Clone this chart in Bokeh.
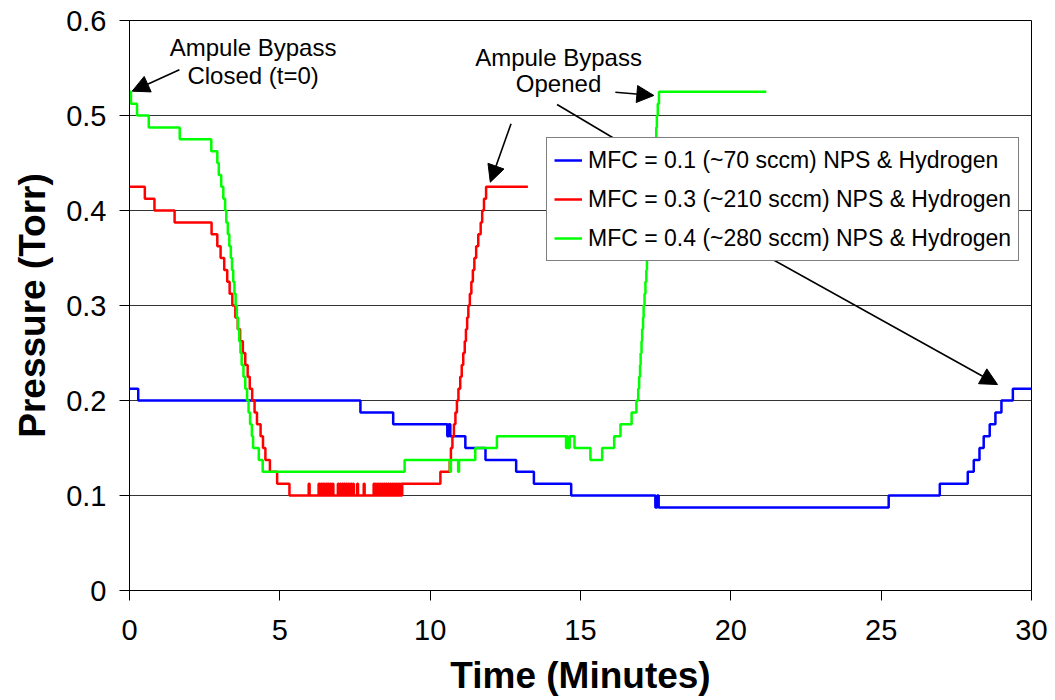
from bokeh.plotting import figure
from bokeh.models import (Range1d, Legend, LegendItem, Arrow, NormalHead,
                          FixedTicker, PrintfTickFormatter)
from bokeh.core.properties import value
from bokeh.embed import file_html
from bokeh.resources import INLINE

FONT = "Liberation Sans"

# ---------------- data ----------------
x_ticks = [0, 5, 10, 15, 20, 25, 30]
y_ticks = [0, 0.1, 0.2, 0.3, 0.4, 0.5, 0.6]

series_labels = ["MFC = 0.1 (~70 sccm) NPS & Hydrogen",
                 "MFC = 0.3 (~210 sccm) NPS & Hydrogen",
                 "MFC = 0.4 (~280 sccm) NPS & Hydrogen"]
series_colors = ["#0000FF", "#FF0000", "#00FF00"]

# MFC = 0.1  (time in minutes, pressure in Torr)
blue_t = [0.00, 0.29, 7.68, 8.77, 10.57, 10.62, 10.67, 11.17, 11.84, 12.86,
          13.45, 14.69, 17.49, 17.55, 17.60, 25.25, 26.95, 27.88, 28.08,
          28.27, 28.41, 28.61, 28.80, 29.00, 29.38, 30.00]
blue_v = [0.2125, 0.2, 0.1875, 0.175, 0.1625, 0.175, 0.1625, 0.15, 0.1375,
          0.125, 0.1125, 0.1, 0.0875, 0.1, 0.0875, 0.1, 0.1125, 0.125,
          0.1375, 0.15, 0.1625, 0.175, 0.1875, 0.2, 0.2125, 0.2125]

# MFC = 0.3
red_t = [0.00, 0.51, 0.83, 1.50, 2.73, 2.92, 3.03, 3.15, 3.25, 3.33, 3.42,
         3.52, 3.60, 3.68, 3.77, 3.85, 3.93, 4.00, 4.08, 4.16, 4.24, 4.36,
         4.44, 4.52, 4.67, 4.91, 5.32,
         5.96, 5.99, 6.29, 6.32, 6.36, 6.39, 6.42, 6.45, 6.48, 6.51, 6.55,
         6.58, 6.61, 6.64, 6.68, 6.71, 6.75, 6.78, 6.93, 6.96, 7.00, 7.03,
         7.07, 7.10, 7.14, 7.17, 7.21, 7.24, 7.28, 7.31, 7.36, 7.39, 7.43,
         7.46, 7.57, 7.60, 7.79, 7.82, 8.12, 8.15, 8.18, 8.21, 8.25, 8.28,
         8.32, 8.35, 8.39, 8.42, 8.46, 8.49, 8.53, 8.56, 8.60, 8.63, 8.67,
         8.70, 8.74, 8.77, 8.81, 8.84, 8.88, 8.91, 8.95, 8.98, 9.02, 9.05,
         9.07, 10.34,
         10.65, 10.69, 10.74, 10.79, 10.84, 10.89, 10.94, 11.00, 11.05,
         11.10, 11.15, 11.19, 11.23, 11.27, 11.32, 11.37, 11.42, 11.47,
         11.53, 11.60, 11.68, 11.73, 11.79, 11.86, 13.25]
red_v = [0.425, 0.4125, 0.4, 0.3875, 0.375, 0.3625, 0.35, 0.3375, 0.325,
         0.3125, 0.3, 0.2875, 0.275, 0.2625, 0.25, 0.2375, 0.225, 0.2125,
         0.2, 0.1875, 0.175, 0.1625, 0.15, 0.1375, 0.125, 0.1125, 0.1,
         0.1125, 0.1, 0.1125, 0.1, 0.1125, 0.1, 0.1125, 0.1, 0.1125, 0.1,
         0.1125, 0.1, 0.1125, 0.1, 0.1125, 0.1, 0.1125, 0.1, 0.1125, 0.1,
         0.1125, 0.1, 0.1125, 0.1, 0.1125, 0.1, 0.1125, 0.1, 0.1125, 0.1,
         0.1125, 0.1, 0.1125, 0.1, 0.1125, 0.1, 0.1125, 0.1, 0.1125, 0.1,
         0.1125, 0.1, 0.1125, 0.1, 0.1125, 0.1, 0.1125, 0.1, 0.1125, 0.1,
         0.1125, 0.1, 0.1125, 0.1, 0.1125, 0.1, 0.1125, 0.1, 0.1125, 0.1,
         0.1125, 0.1, 0.1125, 0.1, 0.1125, 0.1,
         0.1125, 0.125,
         0.1375, 0.15, 0.1625, 0.175, 0.1875, 0.2, 0.2125, 0.225, 0.2375,
         0.25, 0.2625, 0.275, 0.2875, 0.3, 0.3125, 0.325, 0.3375, 0.35,
         0.3625, 0.375, 0.3875, 0.4, 0.4125, 0.425, 0.425]

# MFC = 0.4
green_t = [0.00, 0.05, 0.25, 0.64, 1.67, 2.72, 2.92, 2.97, 3.05, 3.12, 3.18,
           3.22, 3.27, 3.32, 3.37, 3.41, 3.45, 3.49, 3.53, 3.57, 3.61, 3.65,
           3.69, 3.73, 3.79, 3.85, 3.91, 3.96, 4.01, 4.07, 4.11, 4.30, 4.43,
           9.15, 10.66, 10.69, 10.93, 10.96, 11.50, 12.22, 14.52, 14.55,
           14.58, 14.64, 14.80, 15.33, 15.72, 16.12, 16.33, 16.70, 16.86,
           16.92, 16.95, 16.98, 17.00, 17.03, 17.05, 17.08, 17.10, 17.13,
           17.16, 17.19, 17.21, 17.24, 17.27, 17.30, 17.32, 17.35, 17.38,
           17.41, 17.43, 17.46, 17.49, 17.52, 17.54, 17.57, 17.61, 21.18]
green_v = [0.525, 0.5125, 0.5, 0.4875, 0.475, 0.4625, 0.45, 0.4375, 0.425,
           0.4125, 0.4, 0.3875, 0.375, 0.3625, 0.35, 0.3375, 0.325, 0.3125,
           0.3, 0.2875, 0.275, 0.2625, 0.25, 0.2375, 0.225, 0.2125, 0.2,
           0.1875, 0.175, 0.1625, 0.15, 0.1375, 0.125,
           0.1375, 0.125, 0.1375, 0.125, 0.1375, 0.15, 0.1625, 0.15, 0.1625,
           0.15, 0.1625, 0.15, 0.1375, 0.15, 0.1625, 0.175, 0.1875, 0.2,
           0.2125, 0.225, 0.2375, 0.25, 0.2625, 0.275, 0.2875, 0.3, 0.3125,
           0.325, 0.3375, 0.35, 0.3625, 0.375, 0.3875, 0.4, 0.4125, 0.425,
           0.4375, 0.45, 0.4625, 0.475, 0.4875, 0.5, 0.5125, 0.525, 0.525]

# annotations
note_text = ["Ampule Bypass", "Closed (t=0)", "Ampule Bypass", "Opened"]
note_x = [4.11, 4.11, 14.27, 14.27]
note_y = [0.5717, 0.5422, 0.5606, 0.5332]

arrow_x0 = [1.66, 12.69, 16.16, 20.98]
arrow_y0 = [0.5481, 0.4913, 0.5245, 0.3557]
arrow_x1 = [0.09, 12.00, 17.44, 28.87]
arrow_y1 = [0.5256, 0.4298, 0.5211, 0.2168]

line_x0 = [14.22]
line_y0 = [0.5116]
line_x1 = [16.99]
line_y1 = [0.4595]

# ---------------- figure ----------------
p = figure(width=1055, height=700, x_range=Range1d(0, 30), y_range=Range1d(0, 0.6),
           output_backend="svg", toolbar_location=None,
           min_border_left=129, min_border_right=24, min_border_top=20,
           min_border_bottom=110, background_fill_color="white",
           border_fill_color="white")
p.outline_line_color = "black"
p.outline_line_width = 1

p.xgrid.visible = False
p.ygrid.ticker = FixedTicker(ticks=y_ticks)
p.ygrid.grid_line_color = "#333333"
p.ygrid.grid_line_width = 1

p.xaxis.ticker = FixedTicker(ticks=x_ticks)
p.yaxis.ticker = FixedTicker(ticks=y_ticks)
p.yaxis.formatter = PrintfTickFormatter(format="%g")

for ax in (p.xaxis, p.yaxis):
    ax.axis_line_color = "black"
    ax.axis_line_width = 1
    ax.major_tick_line_color = "black"
    ax.major_tick_in = 0
    ax.major_tick_out = 10
    ax.minor_tick_line_color = None
    ax.major_label_text_font = FONT
    ax.major_label_text_font_size = "29px"
    ax.major_label_text_color = "black"
    ax.axis_label_text_font = FONT
    ax.axis_label_text_font_style = "bold"
    ax.axis_label_text_font_size = "37px"
    ax.axis_label_text_color = "black"

p.xaxis.axis_label = "Time (Minutes)"
p.yaxis.axis_label = "Pressure (Torr)"
p.xaxis.major_label_standoff = 19
p.yaxis.major_label_standoff = 13
p.xaxis.axis_label_standoff = 12
p.yaxis.axis_label_standoff = 10

renderers = []
for tt, vv, col in ((blue_t, blue_v, series_colors[0]),
                    (red_t, red_v, series_colors[1]),
                    (green_t, green_v, series_colors[2])):
    r = p.step(x=tt, y=vv, mode="after", line_color=col, line_width=2.5)
    renderers.append(r)

p.segment(x0=line_x0, y0=line_y0, x1=line_x1, y1=line_y1,
          line_color="black", line_width=1.6)

for xs, ys, xe, ye in zip(arrow_x0, arrow_y0, arrow_x1, arrow_y1):
    p.add_layout(Arrow(end=NormalHead(size=17, fill_color="black", line_color="black"),
                       x_start=xs, y_start=ys, x_end=xe, y_end=ye,
                       line_color="black", line_width=1.6))

p.text(x=note_x, y=note_y, text=note_text, text_align="center",
       text_baseline="alphabetic", text_font=value(FONT),
       text_font_size="24px", text_color="black")

legend = Legend(items=[LegendItem(label=lab, renderers=[r])
                       for lab, r in zip(series_labels, renderers)],
                location=(417, 329), border_line_color="black",
                border_line_width=1, background_fill_color="white",
                background_fill_alpha=1.0, label_text_font=FONT,
                label_text_font_size="23px", label_text_color="black",
                glyph_width=28, glyph_height=30, label_height=30,
                spacing=9, padding=7, label_standoff=6, margin=0)
legend.level = "overlay"
p.add_layout(legend)

open("out.html", "w").write(file_html(p, INLINE))
